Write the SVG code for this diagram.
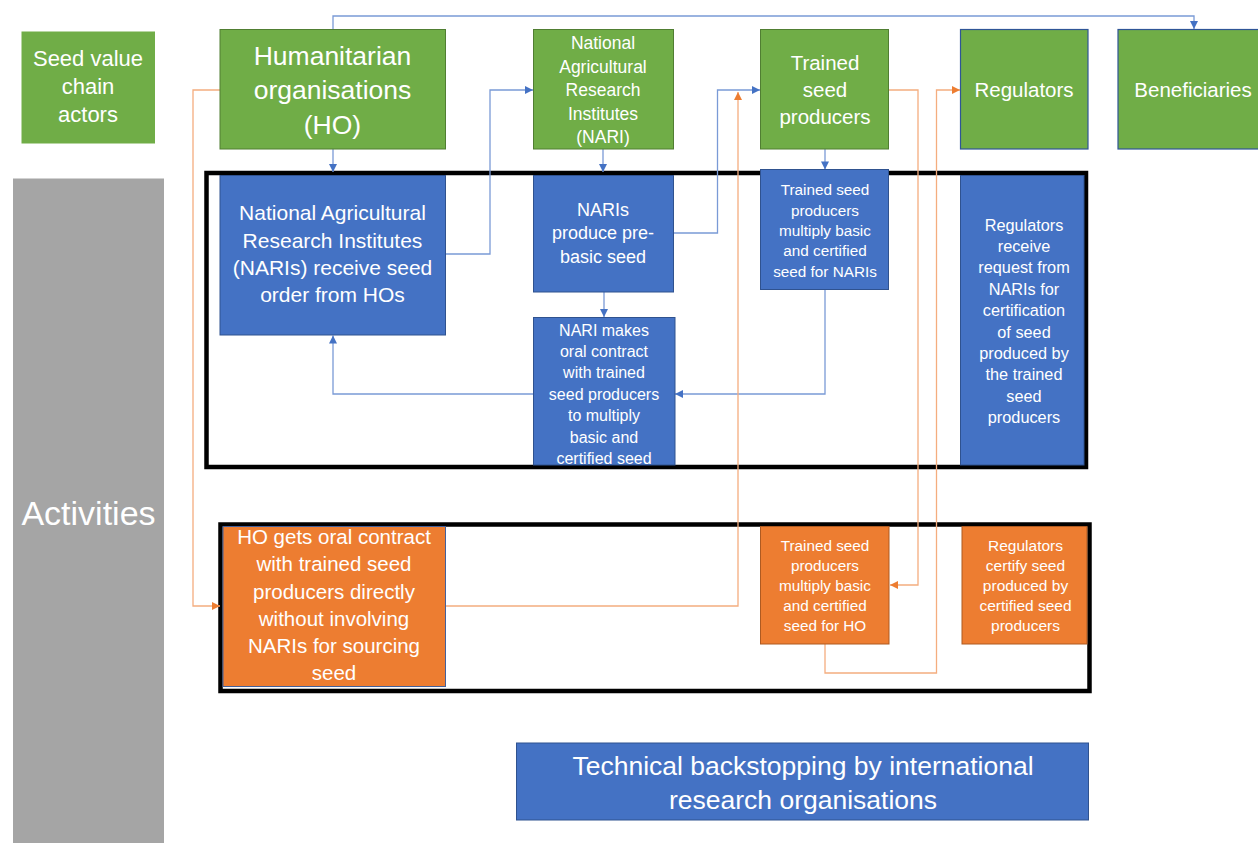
<svg xmlns="http://www.w3.org/2000/svg" width="1258" height="843" viewBox="0 0 1258 843">
  <style>
    text { font-family: "Liberation Sans", Arial, sans-serif; fill: #ffffff; text-anchor: middle; }
    .green { fill: #70AD47; stroke: #507E32; stroke-width: 1; }
    .green-b { fill: #70AD47; stroke: #2F5597; stroke-width: 1.2; }
    .blue { fill: #4472C4; stroke: #2F528F; stroke-width: 1; }
    .orange { fill: #ED7D31; stroke: #AE5A21; stroke-width: 1; }
    .frame { fill: none; stroke: #000000; stroke-width: 4.5; }
    .cb { fill: none; stroke: #7A9AD6; stroke-width: 1.3; }
    .co { fill: none; stroke: #F4AD7F; stroke-width: 1.3; }
  </style>
  <defs>
    <marker id="arrow-blue" viewBox="0 0 10 10" refX="10" refY="5" markerWidth="9" markerHeight="8" orient="auto" markerUnits="userSpaceOnUse">
      <path d="M0,0 L10,5 L0,10 z" fill="#4472C4"/>
    </marker>
    <marker id="arrow-orange" viewBox="0 0 10 10" refX="10" refY="5" markerWidth="9" markerHeight="8" orient="auto" markerUnits="userSpaceOnUse">
      <path d="M0,0 L10,5 L0,10 z" fill="#ED7D31"/>
    </marker>
  </defs>

  <rect width="1258" height="843" fill="#ffffff"/>

  <!-- row labels -->
  <g id="label-actors">
    <rect x="21.5" y="31.5" width="133.5" height="112" fill="#70AD47"/>
    <text font-size="22"><tspan x="88" y="65.5">Seed value</tspan><tspan x="88" y="94">chain</tspan><tspan x="88" y="122">actors</tspan></text>
  </g>
  <g id="label-activities">
    <rect x="13" y="178.5" width="151" height="665" fill="#A5A5A5"/>
    <text x="88.5" y="525" font-size="34">Activities</text>
  </g>

  <!-- activity frames -->
  <g id="frames">
    <rect class="frame" x="206.5" y="173" width="879.5" height="294"/>
    <rect class="frame" x="220.5" y="524.5" width="869" height="166.5"/>
  </g>

  <!-- connectors -->
  <g id="connectors">
    <path class="cb" d="M333,29 V16 H1194 V29" marker-end="url(#arrow-blue)"/>
    <path class="cb" d="M333,149 V172" marker-end="url(#arrow-blue)"/>
    <path class="cb" d="M445,254 H490 V90 H533" marker-end="url(#arrow-blue)"/>
    <path class="cb" d="M603,149 V172" marker-end="url(#arrow-blue)"/>
    <path class="cb" d="M673,233 H717.5 V90 H760" marker-end="url(#arrow-blue)"/>
    <path class="cb" d="M825,149 V169.5" marker-end="url(#arrow-blue)"/>
    <path class="cb" d="M604,292 V317" marker-end="url(#arrow-blue)"/>
    <path class="cb" d="M825,290 V394 H675" marker-end="url(#arrow-blue)"/>
    <path class="cb" d="M533,394 H333 V335.5" marker-end="url(#arrow-blue)"/>

    <path class="co" d="M220,90 H193 V606 H220" marker-end="url(#arrow-orange)"/>
    <path class="co" d="M445,606 H738 V92" marker-end="url(#arrow-orange)"/>
    <path class="co" d="M889,90 H918 V585 H890" marker-end="url(#arrow-orange)"/>
    <path class="co" d="M825,644 V673 H936.5 V90 H960" marker-end="url(#arrow-orange)"/>
  </g>

  <!-- actors -->
  <g id="node-ho">
    <rect class="green" x="220" y="29.5" width="225.5" height="119.5"/>
    <text font-size="26.5"><tspan x="332.5" y="64.5">Humanitarian</tspan><tspan x="332.5" y="99">organisations</tspan><tspan x="332.5" y="133.5">(HO)</tspan></text>
  </g>
  <g id="node-nari">
    <rect class="green" x="533.5" y="29.5" width="140" height="119.5"/>
    <text font-size="17.5"><tspan x="603" y="49">National</tspan><tspan x="603" y="72.5">Agricultural</tspan><tspan x="603" y="96">Research</tspan><tspan x="603" y="119.5">Institutes</tspan><tspan x="603" y="143">(NARI)</tspan></text>
  </g>
  <g id="node-producers">
    <rect class="green" x="760.5" y="29.5" width="128" height="119.5"/>
    <text font-size="20.5"><tspan x="825" y="69.5">Trained</tspan><tspan x="825" y="96.5">seed</tspan><tspan x="825" y="123.5">producers</tspan></text>
  </g>
  <g id="node-regulators">
    <rect class="green-b" x="960.5" y="29.5" width="127.5" height="119.5"/>
    <text x="1024" y="97" font-size="20.5">Regulators</text>
  </g>
  <g id="node-beneficiaries">
    <rect class="green-b" x="1118" y="29.5" width="150" height="119.5"/>
    <text x="1193" y="97" font-size="20.5">Beneficiaries</text>
  </g>

  <!-- NARI pathway -->
  <g id="node-nari-order">
    <rect class="blue" x="220" y="175.5" width="225.5" height="159.5"/>
    <text font-size="21"><tspan x="332.5" y="220">National Agricultural</tspan><tspan x="332.5" y="247.5">Research Institutes</tspan><tspan x="332.5" y="275">(NARIs) receive seed</tspan><tspan x="332.5" y="302">order from HOs</tspan></text>
  </g>
  <g id="node-prebasic">
    <rect class="blue" x="533.5" y="175.5" width="140" height="116.5"/>
    <text font-size="18"><tspan x="603" y="216">NARIs</tspan><tspan x="603" y="239">produce pre-</tspan><tspan x="603" y="262.5">basic seed</tspan></text>
  </g>
  <g id="node-nari-contract">
    <rect class="blue" x="533.5" y="317.5" width="141.5" height="147.5"/>
    <text font-size="16"><tspan x="604" y="336">NARI makes</tspan><tspan x="604" y="357">oral contract</tspan><tspan x="604" y="378">with trained</tspan><tspan x="604" y="399.5">seed producers</tspan><tspan x="604" y="421">to multiply</tspan><tspan x="604" y="442.5">basic and</tspan><tspan x="604" y="463.5">certified seed</tspan></text>
  </g>
  <g id="node-multiply-nari">
    <rect class="blue" x="760.5" y="169.5" width="128" height="120"/>
    <text font-size="15.3"><tspan x="825" y="195">Trained seed</tspan><tspan x="825" y="215.5">producers</tspan><tspan x="825" y="236">multiply basic</tspan><tspan x="825" y="256">and certified</tspan><tspan x="825" y="276.5">seed for NARIs</tspan></text>
  </g>
  <g id="node-regulators-request">
    <rect class="blue" x="960.5" y="175.5" width="123.5" height="289.5"/>
    <text font-size="16.3"><tspan x="1024" y="231">Regulators</tspan><tspan x="1024" y="252">receive</tspan><tspan x="1024" y="273">request from</tspan><tspan x="1024" y="294.5">NARIs for</tspan><tspan x="1024" y="316">certification</tspan><tspan x="1024" y="337.5">of seed</tspan><tspan x="1024" y="359">produced by</tspan><tspan x="1024" y="380">the trained</tspan><tspan x="1024" y="401.5">seed</tspan><tspan x="1024" y="423">producers</tspan></text>
  </g>

  <!-- direct HO pathway -->
  <g id="node-ho-contract">
    <rect x="223" y="526.5" width="222.5" height="160" fill="#ED7D31" stroke="#44609A" stroke-width="1"/>
    <text font-size="20.5"><tspan x="334" y="544">HO gets oral contract</tspan><tspan x="334" y="571.3">with trained seed</tspan><tspan x="334" y="598.5">producers directly</tspan><tspan x="334" y="625.8">without involving</tspan><tspan x="334" y="653">NARIs for sourcing</tspan><tspan x="334" y="680.3">seed</tspan></text>
  </g>
  <g id="node-multiply-ho">
    <rect class="orange" x="760.5" y="526.5" width="128.5" height="117.5"/>
    <text font-size="15.3"><tspan x="825" y="550.5">Trained seed</tspan><tspan x="825" y="570.5">producers</tspan><tspan x="825" y="591">multiply basic</tspan><tspan x="825" y="611">and certified</tspan><tspan x="825" y="631">seed for HO</tspan></text>
  </g>
  <g id="node-regulators-certify">
    <rect class="orange" x="962" y="526.5" width="125" height="117.5"/>
    <text font-size="15.5"><tspan x="1025.5" y="550.5">Regulators</tspan><tspan x="1025.5" y="570.5">certify seed</tspan><tspan x="1025.5" y="591">produced by</tspan><tspan x="1025.5" y="611">certified seed</tspan><tspan x="1025.5" y="631">producers</tspan></text>
  </g>

  <g id="node-backstopping">
    <rect class="blue" x="516.5" y="743" width="572" height="77"/>
    <text font-size="26.5"><tspan x="803" y="775">Technical backstopping by international</tspan><tspan x="803" y="809">research organisations</tspan></text>
  </g>
</svg>
